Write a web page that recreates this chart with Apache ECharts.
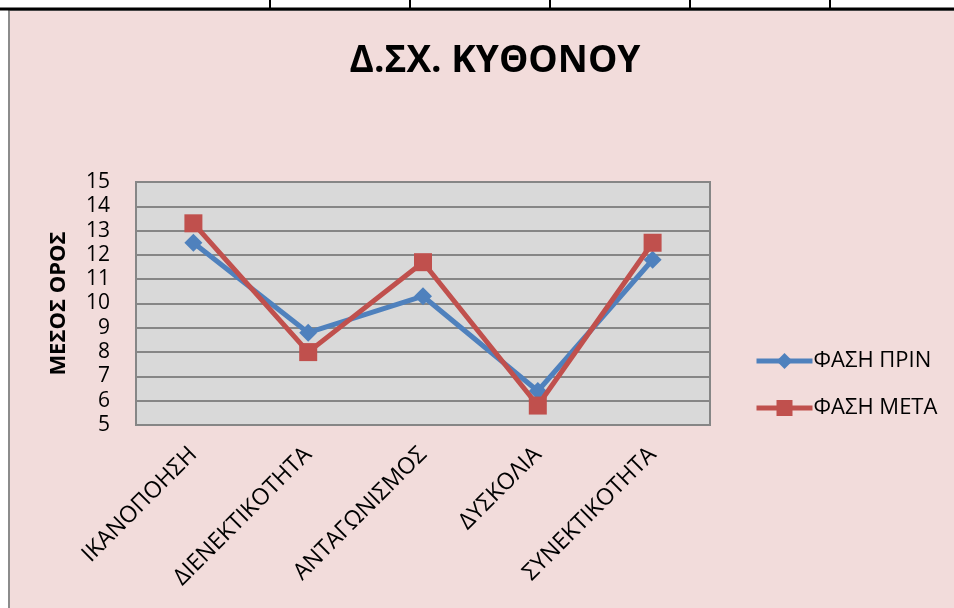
<!DOCTYPE html>
<html>
<head>
<meta charset="utf-8">
<script src="https://cdn.jsdelivr.net/npm/echarts@6/dist/echarts.min.js"></script>
<style>
  html, body { margin: 0; padding: 0; background: #fff; }
  #chart { width: 954px; height: 608px; }
</style>
</head>
<body>
<div id="chart"></div>
<script>
// data
const categories = ["ΙΚΑΝΟΠΟΗΣΗ", "ΔΙΕΝΕΚΤΙΚΟΤΗΤΑ", "ΑΝΤΑΓΩΝΙΣΜΟΣ", "ΔΥΣΚΟΛΙΑ", "ΣΥΝΕΚΤΙΚΟΤΗΤΑ"];
const faseiPrin = [12.5, 8.8, 10.3, 6.4, 11.8];
const faseiMeta = [13.3, 8.0, 11.7, 5.8, 12.5];
const yMin = 5, yMax = 15, yStep = 1;

const font = "'Open Sans', 'Noto Sans', sans-serif";
const chart = echarts.init(document.getElementById("chart"), null, { renderer: "canvas" });

chart.setOption({
  backgroundColor: "#ffffff",
  animation: false,
  textStyle: { fontFamily: font, color: "#000" },
  graphic: [
    // pink chart area with grey frame
    {
      type: "rect", z: -10, silent: true,
      shape: { x: 9, y: 10, width: 960, height: 610 },
      style: { fill: "#F2DCDB", stroke: "#8c8c8c", lineWidth: 2 }
    },
    // spreadsheet cell lines above the chart
    {
      type: "line", z: -5, silent: true,
      shape: { x1: 0, y1: 9, x2: 954, y2: 9 },
      style: { stroke: "#000", lineWidth: 3 }
    },
    ...[270, 410, 550, 690, 830].map(x => ({
      type: "line", z: -5, silent: true,
      shape: { x1: x, y1: 0, x2: x, y2: 9 },
      style: { stroke: "#000", lineWidth: 2 }
    }))
  ],
  title: {
    text: "Δ.ΣΧ. ΚΥΘΟΝΟΥ",
    left: 490, top: 38, textAlign: "center",
    textStyle: { fontFamily: font, fontSize: 37, fontWeight: "bold", color: "#000" }
  },
  legend: {
    orient: "vertical",
    left: 749, top: 345,
    itemWidth: 56, itemHeight: 20, itemGap: 25,
    lineStyle: { width: 5 },
    textStyle: { fontFamily: font, fontSize: 22, color: "#000", padding: [0, 0, 0, -4] },
    data: ["ΦΑΣΗ ΠΡΙΝ", "ΦΑΣΗ ΜΕΤΑ"]
  },
  grid: { left: 136, top: 182, right: 244, bottom: 183, show: true,
    backgroundColor: "#D9D9D9", borderColor: "#868686", borderWidth: 2 },
  xAxis: {
    type: "category",
    data: categories,
    boundaryGap: true,
    axisLine: { show: false },
    axisTick: { show: false },
    axisLabel: { rotate: 45, fontSize: 23, margin: 26, color: "#000", fontFamily: font, interval: 0 }
  },
  yAxis: {
    type: "value",
    min: yMin, max: yMax, interval: yStep,
    name: "ΜΕΣΟΣ ΟΡΟΣ",
    nameLocation: "middle",
    nameGap: 66,
    nameTextStyle: { fontFamily: font, fontSize: 22, fontWeight: "bold", color: "#000" },
    axisLine: { show: false },
    axisTick: { show: false },
    axisLabel: { fontSize: 21, margin: 26, color: "#000", fontFamily: font },
    splitLine: { lineStyle: { color: "#868686", width: 2 } }
  },
  series: [
    {
      name: "ΦΑΣΗ ΠΡΙΝ",
      type: "line",
      data: faseiPrin,
      symbol: "diamond",
      symbolSize: 18,
      lineStyle: { color: "#4F81BD", width: 5 },
      itemStyle: { color: "#4F81BD" },
      z: 2
    },
    {
      name: "ΦΑΣΗ ΜΕΤΑ",
      type: "line",
      data: faseiMeta,
      symbol: "rect",
      symbolSize: 18,
      lineStyle: { color: "#C0504D", width: 5 },
      itemStyle: { color: "#C0504D" },
      z: 3
    }
  ]
});
</script>
</body>
</html>
